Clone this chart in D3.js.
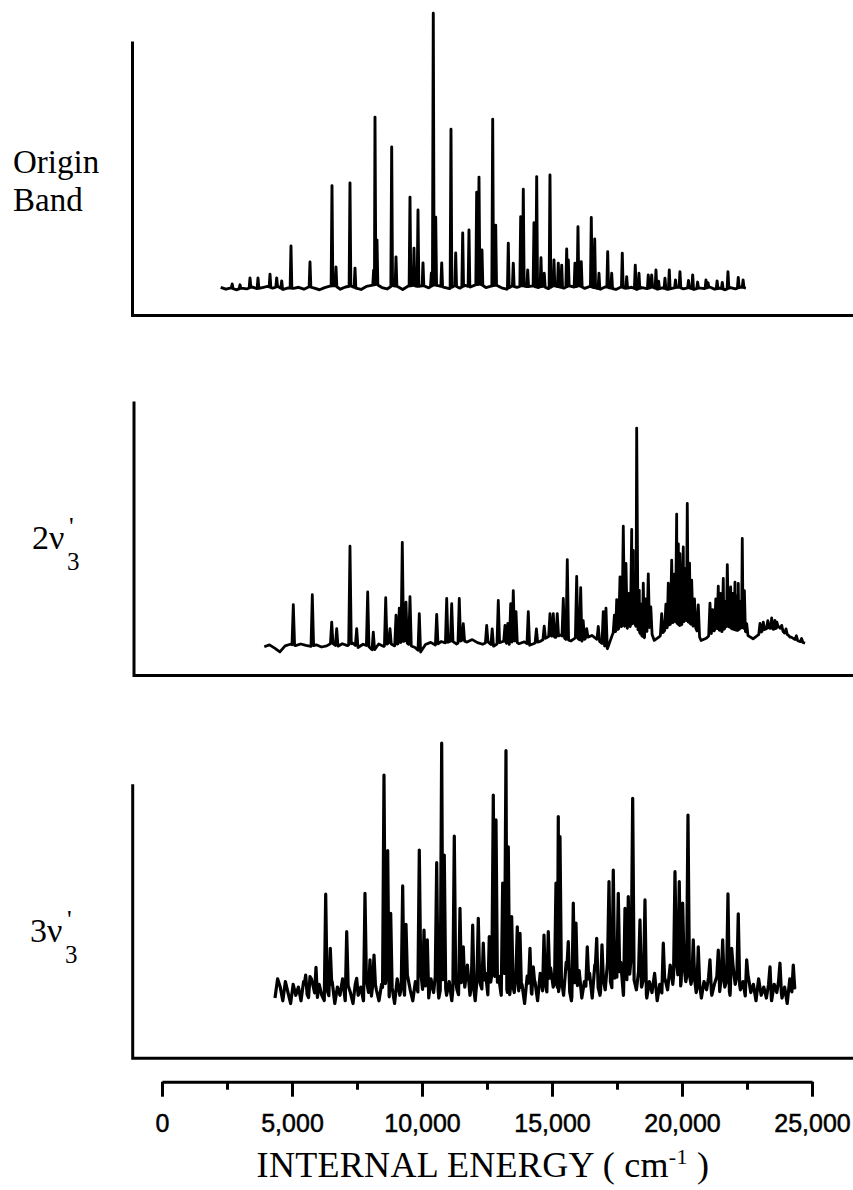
<!DOCTYPE html>
<html>
<head>
<meta charset="utf-8">
<script src="https://cdn.jsdelivr.net/npm/d3@7"></script>
<style>
  html, body { margin: 0; padding: 0; background: #fff; }
  svg { display: block; }
</style>
</head>
<body>
<svg id="chart" width="853" height="1190"></svg>
<script>
// ---------------- DATA ----------------
const majorTicks = [0, 5000, 10000, 15000, 20000, 25000];
const minorTicks = [2500, 7500, 12500, 17500, 22500];
const tickLabels = ["0", "5,000", "10,000", "15,000", "20,000", "25,000"];
const axisTitle = "INTERNAL ENERGY ( cm";
const axisTitleSup = "-1";
const panelNames = ["Origin Band", "2ν'3", "3ν'3"];

// Origin band: peaks [energy cm-1, intensity (% of panel axis height)]
const originPeaks = [
  [2700, 11.5], [3000, 11.2], [3385, 13.7], [3692, 13.7], [4154, 15.1], [4411, 13.7], [4604, 12.6],
  [4961, 25.4], [5692, 19.5], [6538, 47.4], [6692, 17.7], [7230, 48.4], [7423, 17.3],
  [8140, 16.5], [8192, 72.4], [8269, 27.6], [8834, 61.5], [9000, 21.4], [9538, 43.2], [9692, 24.6],
  [9846, 38.5], [10038, 19.2], [10360, 15.5], [10434, 110.3], [10527, 35.9], [10758, 19.2], [11115, 68],
  [11296, 22.8], [11565, 30.1], [11807, 31.2], [12103, 45], [12192, 50.5], [12307, 23.9],
  [12719, 71.6], [12834, 33], [13319, 26.4], [13511, 19.1], [13796, 36.1], [13896, 46.1],
  [14065, 16.6], [14307, 33.9], [14411, 50.7], [14576, 21.1], [14703, 15.4], [14922, 51.3],
  [15076, 20.3], [15242, 19.1], [15373, 18.4], [15565, 24.3], [15627, 20.3], [15884, 19.1],
  [15999, 32.4], [16126, 19.6], [16511, 35.8], [16642, 27.9], [16807, 15.4], [17142, 23.3],
  [17296, 15.4], [17703, 22.7], [17873, 14.2], [18203, 18.4], [18345, 15.4], [18703, 14.8],
  [18834, 14.8], [18999, 16.6], [19100, 12.5], [19345, 13.6], [19511, 16.6], [19750, 13],
  [19922, 16], [20250, 12.8], [20411, 14.8], [20600, 12.2], [20922, 13], [21000, 12],
  [21350, 12.6], [21550, 12.1], [21768, 16], [22164, 13.9], [22350, 13]
];
// Origin band: baseline samples from 2258 cm-1 every 200 cm-1
const originBaseStart = 2258, originBaseStep = 200;
const originBase = [
  10.3, 9.6, 10.1, 9.4, 10.0, 9.7, 10.4, 9.8, 10.2, 10.6,
  10.0, 10.6, 9.5, 10.1, 9.9, 10.3, 9.6, 10.5, 10.0, 9.4,
  10.2, 10.7, 10.9, 9.6, 10.4, 10.8, 10.0, 9.5, 10.6, 11.0,
  11.4, 10.2, 9.7, 10.9, 10.6, 9.5, 10.7, 11.0, 10.6, 10.9,
  10.1, 11.2, 10.8, 10.3, 9.8, 10.9, 10.0, 11.0, 10.4, 11.2,
  11.4, 10.2, 10.7, 11.1, 10.1, 9.6, 10.8, 10.3, 10.9, 10.5,
  10.8, 10.2, 10.7, 9.8, 10.9, 10.5, 10.0, 10.8, 10.4, 10.9,
  9.9, 10.6, 10.1, 9.6, 10.5, 10.0, 9.5, 10.4, 9.9, 10.3,
  9.5, 10.2, 9.8, 10.4, 9.6, 10.1, 9.5, 10.0, 10.4, 9.7,
  10.2, 9.5, 10.1, 9.8, 10.4, 9.6, 10.0, 9.4, 10.2, 9.7,
  10.4, 10.0
];

// 2v3' band
const v2Peaks = [
  [5050, 25.9], [5781, 29.5], [6527, 19.5], [6719, 17.1], [7230, 47.2], [7488, 17.1],
  [7911, 30.5], [8127, 15.8], [8604, 28.4], [8769, 17.1], [9000, 22], [9127, 24.6],
  [9242, 48.6], [9384, 26.8], [9538, 28.8], [9896, 22.6], [10565, 22.3], [10950, 28.1],
  [11142, 26.2], [11434, 28.1], [11588, 18.9], [12488, 18.3], [12700, 17], [12934, 27.4],
  [13192, 18.3], [13300, 19], [13411, 26.2], [13511, 31], [13615, 23.3], [14088, 23.3],
  [14400, 17], [14700, 18], [14922, 22.6], [15049, 22.6], [15203, 22.6], [15434, 28.1],
  [15588, 42.3], [15949, 36.2], [16103, 32.1], [16200, 20], [16334, 17.1], [16780, 17.9],
  [16972, 23.3], [17076, 24.6], [17400, 22], [17488, 27.7], [17615, 36], [17742, 54.5],
  [17845, 40.9], [17950, 30], [18065, 53.3], [18126, 45.7], [18180, 37], [18257, 90.3],
  [18357, 31.1], [18420, 26], [18511, 33.7], [18600, 28], [18703, 37.1], [18800, 25],
  [19218, 22.6], [19380, 26], [19472, 33.7], [19603, 42.1], [19700, 37], [19795, 58.9],
  [19860, 48], [19922, 44.5], [20049, 46.9], [20120, 39], [20203, 62.8], [20290, 41],
  [20372, 34.8], [20480, 28], [20626, 25.8], [21076, 26.4], [21180, 24], [21300, 28],
  [21395, 32.6], [21480, 30], [21588, 35.4], [21660, 27], [21742, 40.5], [21872, 32.3],
  [21950, 30], [22038, 34.1], [22100, 29], [22164, 33.6], [22240, 27], [22318, 50],
  [22400, 31], [22488, 18.9], [23000, 19], [23126, 19.5], [23300, 20], [23450, 21],
  [23576, 20.1], [23650, 19.5], [23834, 18.3], [24000, 17], [24153, 14], [24400, 14.5],
  [24600, 13.5]
];
const v2BaseStart = 3934, v2BaseStep = 200;
const v2Base = [
  10.5, 11.2, 10.0, 8.6, 10.8, 11.4, 10.9, 11.5, 11.0, 10.6,
  11.2, 10.4, 10.8, 11.9, 10.5, 11.6, 10.9, 11.8, 10.2, 11.4,
  10.7, 8.9, 11.5, 10.6, 12.0, 10.8, 11.9, 12.6, 11.0, 10.2,
  8.4, 11.3, 12.1, 11.0, 12.4, 11.8, 12.7, 11.5, 12.9, 12.2,
  13.1, 12.0, 11.4, 12.3, 10.6, 11.8, 12.5, 11.2, 12.8, 11.6,
  12.3, 11.0, 11.8, 12.4, 13.5, 14.6, 13.9, 14.8, 13.2, 12.6,
  14.0, 12.4, 13.8, 14.6, 13.2, 11.6, 9.8, 15.2, 16.8, 18.4,
  17.0, 19.6, 16.2, 13.4, 18.0, 12.8, 14.2, 16.4, 18.6, 19.8,
  18.0, 20.4, 18.8, 17.2, 12.8, 13.6, 15.4, 17.2, 16.0, 18.2,
  17.0, 16.4, 17.8, 14.6, 13.4, 14.8, 16.6, 17.4, 16.8, 17.8,
  15.6, 14.4, 13.2, 12.4, 11.8
];

// 3v3' band
const v3Peaks = [
  [5527, 30.4], [5692, 29.8], [5923, 33.2], [6296, 59.9], [6473, 40.1], [7104, 46.2],
  [7488, 29.2], [7807, 60.2], [8000, 35.9], [8154, 37.7], [8538, 103.4], [8680, 75.8],
  [8796, 52.9], [9257, 62.9], [9384, 48.9], [9896, 76], [10077, 46.8], [10204, 43.2],
  [10565, 71.4], [10757, 115], [10857, 74.2], [11242, 81.1], [11461, 54.7], [11588, 40.7],
  [11949, 48.6], [12165, 51.1], [12357, 42], [12588, 44.4], [12742, 96.1], [12846, 87],
  [13103, 63.9], [13230, 112.3], [13319, 77.2], [13449, 51.7], [13665, 48], [13769, 45.6],
  [14153, 40.1], [14280, 33.4], [14692, 45], [14857, 46.2], [15153, 63.9], [15242, 88.2],
  [15307, 80.9], [15626, 42.6], [15819, 56.6], [15923, 49.3], [16357, 40.7], [16719, 43.8],
  [16922, 41.4], [17192, 64.5], [17357, 68.7], [17549, 60.2], [17807, 54.7], [17934, 59],
  [18103, 94.9], [18384, 50.5], [18576, 57.8], [19280, 42], [19730, 68.1], [19895, 64.5],
  [20026, 56.6], [20230, 88.8], [20434, 43.2], [20626, 40.7], [21076, 35.9], [21395, 39.5],
  [21565, 43.2], [21768, 60], [21911, 40.1], [22164, 52.7], [22488, 35.9], [23384, 33.4],
  [23768, 34.7], [24280, 34]
];
const v3BaseStart = 4346, v3BaseStep = 100;
const v3Base = [
  22, 29, 26, 21, 28, 24, 20, 27, 23, 26,
  21, 28, 24, 22, 29, 25, 20, 27, 23, 21,
  25, 22, 28, 20, 26, 23, 29, 21, 27, 24,
  20, 28, 23, 26, 21, 29, 24, 22, 30, 25,
  21, 27, 24, 31, 22, 26, 20, 29, 23, 28,
  22, 30, 25, 21, 28, 24, 32, 23, 27, 21,
  29, 24, 33, 22, 27, 30, 23, 28, 21, 31,
  25, 22, 30, 26, 34, 23, 29, 21, 32, 27,
  24, 31, 22, 28, 35, 25, 30, 23, 33, 26,
  21, 29, 24, 32, 22, 27, 20, 30, 25, 23,
  28, 21, 31, 24, 27, 22, 33, 26, 29, 24,
  30, 23, 35, 26, 21, 29, 24, 32, 22, 28,
  25, 31, 22, 34, 27, 23, 30, 25, 36, 28,
  24, 32, 27, 35, 23, 30, 26, 37, 29, 25,
  33, 26, 30, 22, 28, 24, 31, 21, 27, 23,
  29, 25, 34, 27, 38, 30, 26, 36, 28, 33,
  27, 32, 24, 29, 22, 28, 25, 31, 23, 27,
  30, 24, 33, 26, 29, 23, 35, 27, 31, 25,
  28, 22, 30, 24, 27, 21, 29, 23, 26, 22,
  28, 21, 27, 24, 30, 22, 26, 20, 29, 23,
  26
];

// ---------------- DRAW ----------------
const svg = d3.select("#chart");
svg.append("rect").attr("width", 853).attr("height", 1190).attr("fill", "#fff");

const x = d3.scaleLinear().domain([0, 25000]).range([162, 812]);

const panels = [
  { peaks: originPeaks, base: originBase, start: originBaseStart, step: originBaseStep, half: 32,
    width: 2.9, axisX: 132.5, top: 41.5, bottom: 315.5 },
  { peaks: v2Peaks, base: v2Base, start: v2BaseStart, step: v2BaseStep, half: 50,
    width: 2.8, axisX: 134, top: 401.5, bottom: 675.5 },
  { peaks: v3Peaks, base: v3Base, start: v3BaseStart, step: v3BaseStep, half: 55,
    width: 3.2, axisX: 132.7, top: 784.3, bottom: 1058.3 }
];

function buildTrace(p) {
  const bx = p.base.map((v, i) => p.start + i * p.step);
  const bscale = d3.scaleLinear().domain(bx).range(p.base).clamp(true);
  const pts = [];
  bx.forEach((e, i) => {
    if (!p.peaks.some(q => Math.abs(q[0] - e) < p.half)) pts.push([e, p.base[i]]);
  });
  p.peaks.forEach(q => {
    pts.push([q[0] - p.half, bscale(q[0] - p.half)]);
    pts.push([q[0], q[1]]);
    pts.push([q[0] + p.half, bscale(q[0] + p.half)]);
  });
  pts.sort((a, b) => a[0] - b[0]);
  return pts;
}

panels.forEach(p => {
  const y = d3.scaleLinear().domain([0, 100]).range([p.bottom, p.top]);
  const g = svg.append("g");
  // L-shaped frame
  g.append("path")
    .attr("d", `M${p.axisX},${p.top} V${p.bottom} H853`)
    .attr("fill", "none").attr("stroke", "#000").attr("stroke-width", 3);
  const line = d3.line().x(d => x(d[0])).y(d => y(d[1]));
  g.append("path")
    .datum(buildTrace(p))
    .attr("d", line)
    .attr("fill", "none")
    .attr("stroke", "#000")
    .attr("stroke-width", p.width)
    .attr("stroke-linejoin", "round");
});

// Bottom energy axis
const axisY = 1081.7;
const minorAxis = d3.axisBottom(x).tickValues(minorTicks).tickSize(8).tickSizeOuter(0).tickFormat("");
const majorAxis = d3.axisBottom(x).tickValues(majorTicks).tickSize(15).tickSizeOuter(0)
  .tickPadding(18).tickFormat((d, i) => tickLabels[i]);
const ga = svg.append("g").attr("transform", `translate(0,${axisY})`).call(majorAxis);
const gm = svg.append("g").attr("transform", `translate(0,${axisY})`).call(minorAxis);
gm.select(".domain").remove();
[ga, gm].forEach(g => {
  g.selectAll("path.domain").attr("stroke", "#000").attr("stroke-width", 3);
  g.selectAll(".tick line").attr("stroke", "#000").attr("stroke-width", 3);
});
ga.selectAll(".tick text")
  .attr("fill", "#000")
  .attr("stroke", "#000").attr("stroke-width", 0.5)
  .style("font-family", "'Liberation Sans', Arial, Helvetica, sans-serif")
  .style("font-size", "25px");

// Axis title
const title = svg.append("text")
  .attr("x", 483).attr("y", 1177)
  .attr("text-anchor", "middle")
  .style("font-family", "'Liberation Serif', 'Times New Roman', serif")
  .style("font-size", "36px")
  .style("letter-spacing", "0.3px")
  .attr("fill", "#000");
title.append("tspan").text(axisTitle);
title.append("tspan").attr("dy", -13).style("font-size", "22px").text(axisTitleSup);
title.append("tspan").attr("dy", 13).text(" )");

// Panel labels
const serif = "'Liberation Serif', 'Times New Roman', serif";
const [w1, w2] = panelNames[0].split(" ");
svg.append("text").attr("x", 13).attr("y", 173)
  .style("font-family", serif).style("font-size", "33px").text(w1);
svg.append("text").attr("x", 13).attr("y", 211)
  .style("font-family", serif).style("font-size", "33px").text(w2);

function modeLabel(name, xPos, baseY) {
  const main = name.slice(0, 2);
  const prime = name[2];
  const sub = name.slice(3);
  svg.append("text").attr("x", xPos).attr("y", baseY)
    .style("font-family", serif).style("font-size", "34px").text(main);
  svg.append("text").attr("x", xPos + 37).attr("y", baseY - 14)
    .style("font-family", serif).style("font-size", "26px").text(prime);
  svg.append("text").attr("x", xPos + 35).attr("y", baseY + 21)
    .style("font-family", serif).style("font-size", "25px").text(sub);
}
modeLabel(panelNames[1], 32, 549);
modeLabel(panelNames[2], 30, 942);
</script>
</body>
</html>
